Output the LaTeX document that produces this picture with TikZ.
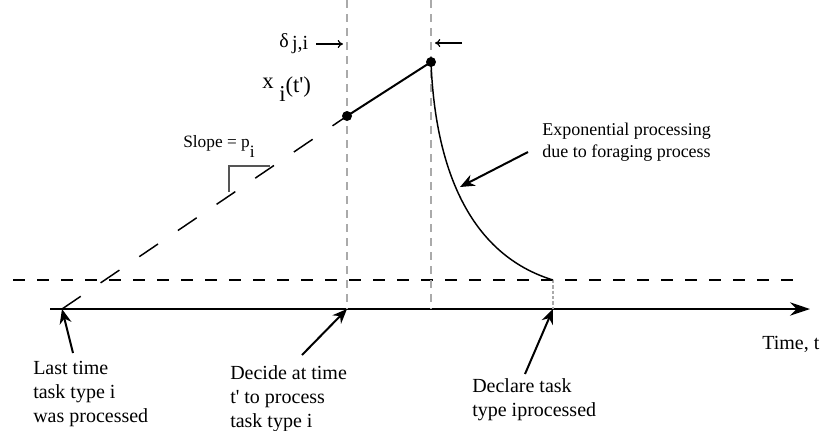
\documentclass[tikz,border=0pt]{standalone}
\usepackage{fontspec}
\setmainfont{Liberation Serif}
\usetikzlibrary{arrows.meta}
\definecolor{gguide}{HTML}{AAAAAA}
\definecolor{gmark}{HTML}{555555}
\newcommand{\lowsub}[2]{\raisebox{-#1}{#2}}
\newcommand{\pr}{\textquotesingle}
\tikzset{
  axisline/.style={line width=1.5pt, -{Stealth[length=15pt, width=10pt]}},
  refline/.style={line width=1.1pt, dash pattern=on 9pt off 9pt},
  guide/.style={gguide, line width=1.1pt, dash pattern=on 6pt off 4.5pt},
  fineguide/.style={gguide, line width=1pt, dash pattern=on 2.5pt off 1.5pt},
  slopeline/.style={line width=1.1pt, dash pattern=on 17pt off 18pt},
  dot/.style={circle, fill=black, minimum size=7.5pt, inner sep=0pt},
  callout/.style={line width=1.5pt, -{Stealth[length=11pt, width=9pt]}},
  gap/.style={line width=0.9pt, -{To[length=4pt, width=6pt]}},
  lbl/.style={anchor=base west, align=left, inner sep=0pt,
              font=\fontsize{15}{18}\selectfont},
}

\begin{document}
\begin{tikzpicture}[x=0.75pt, y=-0.75pt]
    \useasboundingbox (0,0) rectangle (820,430);

    % --- time axis and reference level ---------------------------------
    \coordinate (axL) at (50,309);
    \coordinate (axR) at (810,309);
    \draw[axisline] (axL) -- (axR);
    \coordinate (refL) at (13,280);
    \coordinate (refR) at (793,280);
    \draw[refline] (refL) -- (refR);

    % --- key instants on the axis --------------------------------------
    \coordinate (tlast) at (62,309);
    \coordinate (tdec)  at (347,309);
    \coordinate (tend)  at (553,309);
    \coordinate (xend)  at (553,280);

    % --- vertical guides -----------------------------------------------
    \coordinate (g1top) at (347,0);
    \coordinate (g2top) at (431,0);
    \coordinate (g2bot) at (431,309);
    \draw[guide] (g1top) -- (tdec);
    \draw[guide] (g2top) -- (g2bot);
    \draw[fineguide] (xend) -- (tend);

    % --- state trajectory ----------------------------------------------
    \node[dot] (xa) at (347,116) {};
    \node[dot] (xb) at (431,62) {};
    \draw[slopeline] (tlast) -- (xa.center);
    \draw[line width=1.5pt] (xa.center) -- (xb.center);
    \draw[line width=1.1pt] (xb.center) .. controls (434,140) and (455,250) .. (xend);

    % --- slope marker --------------------------------------------------
    \draw[gmark, line width=0.8pt] (229,192) -- (229,166) -- (270,166);
    \node[lbl, font=\fontsize{13}{16}\selectfont] (slope) at (183,147)
      {Slope = p\lowsub{7.5pt}{i}};

    % --- labels near the trajectory ------------------------------------
    \node[lbl, font=\fontsize{15}{18}\selectfont] (delta) at (279,47)
      {δ\,\lowsub{2pt}{j,i}};
    \coordinate (dlT) at (316,44);
    \coordinate (dlH) at (343,44);
    \coordinate (drT) at (462,43);
    \coordinate (drH) at (435,43);
    \draw[gap] (dlT) -- (dlH);
    \draw[gap] (drT) -- (drH);
    \node[lbl, font=\fontsize{17}{20}\selectfont] (xlab) at (262,88)
      {x\lowsub{10pt}{ i}\lowsub{3.5pt}{(t\pr)}};

    \node[lbl, font=\fontsize{13.5}{16.5}\selectfont] (expo) at (542,157)
      {Exponential processing\\due to foraging process};
    \coordinate (expoT) at (528,152);
    \coordinate (expoH) at (460,187);
    \draw[callout] (expoT) -- (expoH);

    % --- labels under the axis -----------------------------------------
    \node[lbl] (last) at (33,422) {Last time\\task type i\\was processed};
    \coordinate (lastT) at (73,353);
    \draw[callout] (lastT) -- (tlast);

    \node[lbl] (decide) at (230,427) {Decide at time\\t\pr{} to process\\task type i};
    \coordinate (decT) at (302,355);
    \draw[callout] (decT) -- (tdec);

    \node[lbl] (declare) at (472,416) {Declare task\\type iprocessed};
    \coordinate (dclT) at (525,374);
    \draw[callout] (dclT) -- (tend);

    \node[lbl] (time) at (762,349) {Time, t};
\end{tikzpicture}
\end{document}
